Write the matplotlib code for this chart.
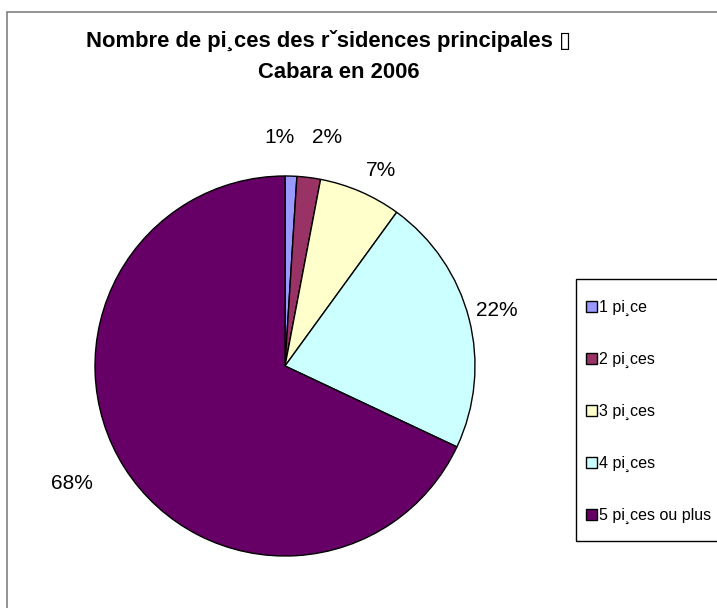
import matplotlib.pyplot as plt
from matplotlib.patches import Rectangle

plt.rcParams['font.family'] = ['Liberation Sans', 'DejaVu Sans']

# pieces per dwelling, share of main residences (%)
categories = ["1 pi\u00b8ce", "2 pi\u00b8ces", "3 pi\u00b8ces", "4 pi\u00b8ces", "5 pi\u00b8ces ou plus"]
shares = [1, 2, 7, 22, 68]
colors = ["#9999FF", "#993366", "#FFFFCC", "#CCFFFF", "#660066"]

title_lines = ["Nombre de pi\u00b8ces des r\u02c7sidences principales \u25af", "Cabara en 2006"]

# where each percentage label sits, in pie-radius units
label_pos = [(-0.03, 1.205), (0.22, 1.205), (0.505, 1.03), (1.116, 0.29), (-1.12, -0.616)]

W, H = 717, 608
fig = plt.figure(figsize=(W / 100, H / 100), dpi=100)

# chart area frame (runs off the right and bottom edges)
fig.patches.append(Rectangle((7 / W, -0.1), 1.2, 1 - 12 / H + 0.1, transform=fig.transFigure,
                             fill=False, edgecolor="#808080", linewidth=1.2))

r = 190
cx, cy = 285, H - 366
lim = 1.1
ax = fig.add_axes([(cx - lim * r) / W, (cy - lim * r) / H, 2 * lim * r / W, 2 * lim * r / H])
wedges, _ = ax.pie(shares, colors=colors, startangle=90, counterclock=False,
                   wedgeprops=dict(edgecolor="black", linewidth=1.0))
ax.set_xlim(-lim, lim)
ax.set_ylim(-lim, lim)

for v, (x, y) in zip(shares, label_pos):
    ax.text(x, y, f"{v}%", ha="center", va="center", fontsize=15)

# two-line title
fig.text(329 / W, 1 - 41 / H, title_lines[0], ha="center", va="center", fontsize=15.8, fontweight="bold")
fig.text(339 / W, 1 - 73 / H, title_lines[1], ha="center", va="center", fontsize=15.8, fontweight="bold")

# legend box, also cut by the figure edge
fig.patches.append(Rectangle((576 / W, 1 - 541 / H), 0.5, (541 - 279) / H, transform=fig.transFigure,
                             fill=False, edgecolor="black", linewidth=1.0))
fig.legend(wedges, categories, loc="upper left", bbox_to_anchor=(586 / W, 1 - 300 / H),
           frameon=False, fontsize=11.5, handlelength=0.68, handleheight=0.68,
           handletextpad=0.12, labelspacing=2.25, borderpad=0, borderaxespad=0)

fig.savefig("out.png", dpi=100, facecolor="white")
